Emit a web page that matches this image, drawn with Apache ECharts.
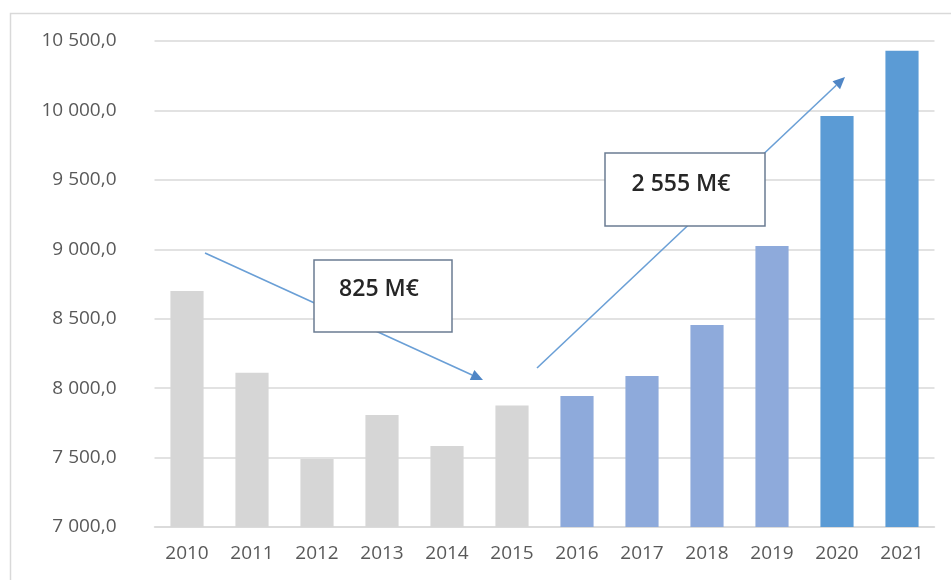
<!DOCTYPE html>
<html>
<head>
<meta charset="utf-8">
<script src="https://cdn.jsdelivr.net/npm/echarts@6/dist/echarts.min.js"></script>
<style>
html,body{margin:0;padding:0;background:#fff;}
#c{width:951px;height:580px;}
</style>
</head>
<body>
<div id="c"></div>
<script>
const years = ['2010','2011','2012','2013','2014','2015','2016','2017','2018','2019','2020','2021'];
const values = [8700, 8110, 7490, 7807, 7583, 7875, 7943, 8087, 8455, 9024, 9960, 10430];
const yTicks = [7000, 7500, 8000, 8500, 9000, 9500, 10000, 10500];
const annotations = ['825 M€', '2 555 M€'];

function fmt(v){
  const s = Math.round(v).toString().replace(/\B(?=(\d{3})+(?!\d))/g, ' ');
  return s + ',0';
}
function colorFor(i){
  if (i < 6) return '#d6d6d6';
  if (i < 10) return '#8eaadb';
  return '#5b9bd5';
}
function arrow(x1,y1,x2,y2){
  const ang = Math.atan2(y2-y1, x2-x1);
  const L = 12, W = 5.5;
  const bx = x2 - L*Math.cos(ang), by = y2 - L*Math.sin(ang);
  const px = -Math.sin(ang)*W, py = Math.cos(ang)*W;
  return [
    {type:'line', z:50, silent:true, shape:{x1:x1,y1:y1,x2:bx,y2:by},
     style:{stroke:'#6a9fd6', lineWidth:1.6}},
    {type:'polygon', z:50, silent:true, shape:{points:[[x2,y2],[bx+px,by+py],[bx-px,by-py]]},
     style:{fill:'#4f86c6'}}
  ];
}
const font = "'Open Sans', sans-serif";
const chart = echarts.init(document.getElementById('c'), null, {renderer:'canvas'});
chart.setOption({
  animation:false,
  backgroundColor:'#fff',
  grid:{left:154.5, right:16.5, top:41, bottom:53, containLabel:false},
  xAxis:{
    type:'category', data:years,
    axisLine:{show:true, lineStyle:{color:'#d9d9d9', width:1.5}},
    axisTick:{show:false},
    axisLabel:{color:'#595959', fontFamily:font, fontSize:19, margin:17}
  },
  yAxis:{
    type:'value', min:yTicks[0], max:yTicks[yTicks.length-1], interval:500,
    axisLine:{show:false}, axisTick:{show:false},
    splitLine:{lineStyle:{color:'#d9d9d9', width:1.5}},
    axisLabel:{color:'#595959', fontFamily:font, fontSize:19, margin:38, formatter:fmt}
  },
  series:[{
    type:'bar',
    barWidth:'51%',
    data: values.map((v,i)=>({value:v, itemStyle:{color:colorFor(i)}}))
  }],
  graphic:[
    {type:'rect', z:1, silent:true, shape:{x:10.5, y:13.5, width:960, height:600},
     style:{fill:'none', stroke:'#d9d9d9', lineWidth:1.5}},
    ...arrow(205, 253, 483, 380),
    ...arrow(537, 368, 845, 77),
    {type:'rect', z:100, shape:{x:314, y:260, width:138, height:72},
     style:{fill:'#fff', stroke:'#6b7c93', lineWidth:1.5}},
    {type:'text', z:101, x:379, y:289, style:{text:annotations[0], fill:'#262626',
      font:"600 23px 'Open Sans', sans-serif", align:'center', verticalAlign:'middle'}},
    {type:'rect', z:100, shape:{x:605, y:153, width:160, height:73},
     style:{fill:'#fff', stroke:'#6b7c93', lineWidth:1.5}},
    {type:'text', z:101, x:681, y:184, style:{text:annotations[1], fill:'#262626',
      font:"600 23px 'Open Sans', sans-serif", align:'center', verticalAlign:'middle'}}
  ]
});
</script>
</body>
</html>
